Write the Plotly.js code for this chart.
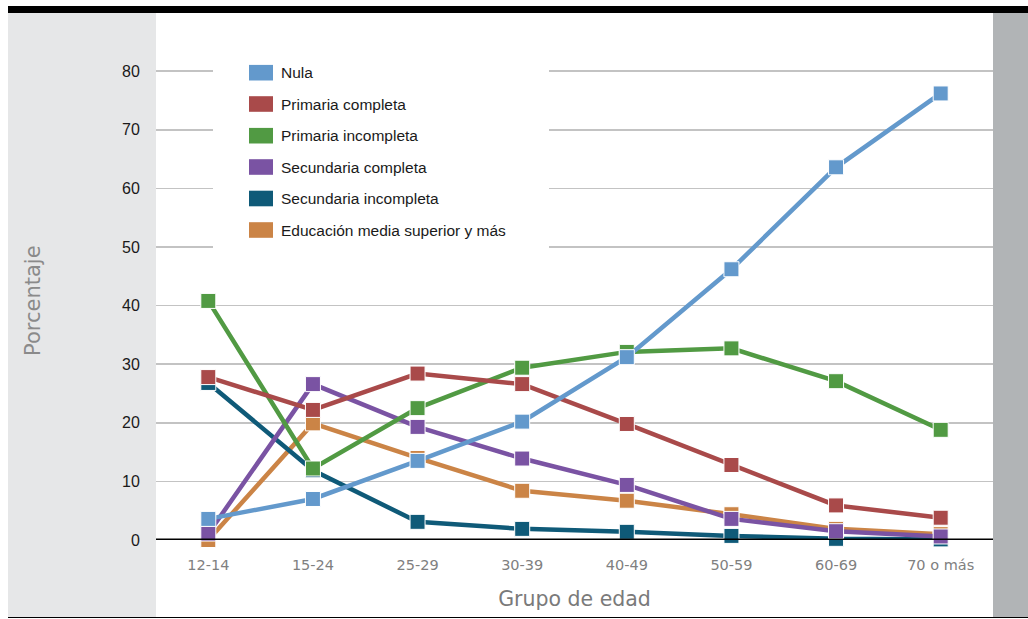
<!DOCTYPE html>
<html>
<head>
<meta charset="utf-8">
<script src="https://cdn.plot.ly/plotly-3.0.1.min.js"></script>
<style>html,body{margin:0;padding:0;background:#fff;}#chart{width:1028px;height:619px;}</style>
</head>
<body>
<div id="chart"></div>
<script>
const categories = ["12-14", "15-24", "25-29", "30-39", "40-49", "50-59", "60-69", "70 o más"];
const seriesNames = ["Nula", "Primaria completa", "Primaria incompleta", "Secundaria completa", "Secundaria incompleta", "Educación media superior y más"];
const nula = [3.6, 7.0, 13.5, 20.2, 31.2, 46.2, 63.6, 76.2];
const primariaCompleta = [27.8, 22.2, 28.4, 26.6, 19.8, 12.8, 5.9, 3.8];
const primariaIncompleta = [40.8, 12.2, 22.5, 29.4, 32.1, 32.7, 27.1, 18.8];
const secundariaCompleta = [1.1, 26.6, 19.3, 13.9, 9.4, 3.6, 1.5, 0.6];
const secundariaIncompleta = [26.8, 11.9, 3.1, 1.9, 1.4, 0.7, 0.2, 0.1];
const mediaSuperior = [0.0, 19.9, 14.0, 8.4, 6.7, 4.4, 1.9, 1.0];
const yTicks = [0, 10, 20, 30, 40, 50, 60, 70, 80];
const xTitle = "Grupo de edad";
const yTitle = "Porcentaje";

const seriesValues = [nula, primariaCompleta, primariaIncompleta, secundariaCompleta, secundariaIncompleta, mediaSuperior];
const colors = ["#6399cc", "#a94a4a", "#519a43", "#7a53a3", "#0f5a78", "#cb8446"];

// plot area in pixels
const W = 1028, H = 619;
const L = 156, R = 993, T = 13, B = 540;
const px = x => (x - L) / (R - L);
const py = y => (B - y) / (B - T);

const traces = [];
for (let i = seriesNames.length - 1; i >= 0; i--) {
  traces.push({
    type: "scatter",
    mode: "lines+markers",
    name: seriesNames[i],
    x: categories,
    y: seriesValues[i],
    cliponaxis: false,
    showlegend: false,
    line: {color: colors[i], width: 4.5},
    marker: {symbol: "square", size: 15, color: colors[i], line: {color: "#ffffff", width: 1}}
  });
}

const shapes = [
  {type: "rect", xref: "paper", yref: "paper", x0: px(8), x1: px(156), y0: py(617), y1: py(13), fillcolor: "#e6e7e8", line: {width: 0}, layer: "below"},
  {type: "rect", xref: "paper", yref: "paper", x0: px(993), x1: px(1028), y0: py(617), y1: py(13), fillcolor: "#b1b4b6", line: {width: 0}, layer: "below"},
  {type: "rect", xref: "paper", yref: "paper", x0: px(8), x1: px(1028), y0: py(13), y1: py(6), fillcolor: "#000000", line: {width: 0}, layer: "above"},
  {type: "line", xref: "paper", yref: "paper", x0: px(8), x1: px(1028), y0: py(617.5), y1: py(617.5), line: {color: "#000000", width: 1.2}, layer: "above"},
  {type: "rect", xref: "paper", yref: "paper", x0: px(213), x1: px(549), y0: py(252), y1: py(55), fillcolor: "#ffffff", line: {width: 0}, layer: "above"},
  {type: "line", xref: "paper", yref: "y", x0: 0, x1: 1, y0: 0, y1: 0, line: {color: "#000000", width: 3}, layer: "above"}
];

const annotations = [];
const rowY = [72.7, 104, 135.7, 167, 198.5, 230];
seriesNames.forEach((n, i) => {
  shapes.push({type: "rect", xref: "paper", yref: "paper", x0: px(249), x1: px(273), y0: py(rowY[i] + 7.8), y1: py(rowY[i] - 7.8), fillcolor: colors[i], line: {width: 0}, layer: "above"});
  annotations.push({xref: "paper", yref: "paper", x: px(279), y: py(rowY[i]), xanchor: "left", yanchor: "middle", text: n, showarrow: false, font: {family: "Liberation Sans, Arial, sans-serif", size: 15.5, color: "#1a1a1a"}});
});
annotations.push({xref: "paper", yref: "paper", x: px(33), y: py(301), xanchor: "center", yanchor: "middle", textangle: -90, text: yTitle, showarrow: false, font: {family: "DejaVu Sans, sans-serif", size: 21, color: "#8a8a8a"}});

const layout = {
  width: W, height: H,
  margin: {l: L, r: W - R, t: T, b: H - B, pad: 0},
  paper_bgcolor: "#ffffff",
  plot_bgcolor: "rgba(0,0,0,0)",
  showlegend: false,
  xaxis: {
    type: "category",
    categoryorder: "array",
    categoryarray: categories,
    range: [-0.5, 7.5],
    showgrid: false, zeroline: false, showline: false,
    ticks: "outside", ticklen: 12, tickcolor: "rgba(0,0,0,0)",
    tickfont: {family: "DejaVu Sans, sans-serif", size: 14.5, color: "#808080"},
    title: {text: xTitle, font: {family: "DejaVu Sans, sans-serif", size: 20.5, color: "#7a7a7a"}, standoff: 19},
    fixedrange: true
  },
  yaxis: {
    range: [0, 89.93],
    tickmode: "array", tickvals: yTicks, ticktext: yTicks.map(String),
    showgrid: true, gridcolor: "#c3c3c3", gridwidth: 1.5,
    zeroline: false, showline: false,
    ticks: "outside", ticklen: 12, tickcolor: "rgba(0,0,0,0)",
    tickfont: {family: "Liberation Sans, Arial, sans-serif", size: 16, color: "#1a1a1a"},
    fixedrange: true
  },
  shapes: shapes,
  annotations: annotations
};

Plotly.newPlot("chart", traces, layout, {displayModeBar: false, staticPlot: true});
</script>
</body>
</html>
